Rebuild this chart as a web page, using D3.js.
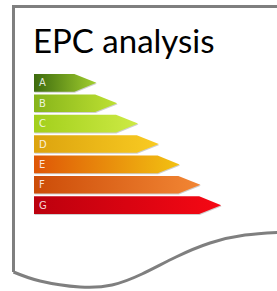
<!DOCTYPE html>
<html>
<head>
<meta charset="utf-8">
<script src="https://cdn.jsdelivr.net/npm/d3@7"></script>
<style>
  body { margin: 0; background: #fff; }
  svg { display: block; }
</style>
</head>
<body>
<div id="chart"></div>
<script>
// energy rating bands, top to bottom
const ratings = ["A", "B", "C", "D", "E", "F", "G"];
const bandLength = [3, 4, 5, 6, 7, 8, 9];
const colorLeft  = ["#3d6b0e", "#86b41a", "#a2cf1c", "#dca30e", "#df5606", "#cc4c08", "#bc000e"];
const colorRight = ["#a2cf2e", "#bde032", "#cdea44", "#f9cb22", "#f2c212", "#f28634", "#f60814"];
const title = "EPC analysis";

const width = 277, height = 291;
const margin = {left: 34, top: 74};

const svg = d3.select("#chart")
    .append("svg")
    .attr("width", width)
    .attr("height", height);

const defs = svg.append("defs");

// document outline with wavy bottom
const wave = [[13.5, 272], [40, 281], [80, 287], [112, 285], [142, 274],
              [176, 257], [210, 243], [245, 235], [285, 232]];
const waveLine = d3.line().curve(d3.curveNatural);
svg.append("path")
    .attr("d", "M13.5,272 L13.5,6.5 L290,6.5 L290,232 " + waveLine(wave.slice().reverse()).replace("M", "L"))
    .attr("fill", "#fff")
    .attr("stroke", "#7f7f7f")
    .attr("stroke-width", 3)
    .attr("stroke-linejoin", "miter");

svg.append("text")
    .attr("x", 33)
    .attr("y", 53)
    .style("font-family", "Lato, 'Open Sans', sans-serif")
    .style("font-size", "33px")
    .attr("fill", "#000")
    .text(title);

const x = d3.scaleLinear()
    .domain([0, 10])
    .range([0, 208]);

const y = d3.scaleBand()
    .domain(ratings)
    .range([margin.top, margin.top + 20 * ratings.length])
    .paddingInner(0.13)
    .paddingOuter(0);

ratings.forEach((r, i) => {
  const g = defs.append("linearGradient")
      .attr("id", "grad" + r)
      .attr("x1", "0%").attr("x2", "100%")
      .attr("y1", "0%").attr("y2", "0%");
  g.append("stop").attr("offset", "0%").attr("stop-color", colorLeft[i]);
  g.append("stop").attr("offset", "100%").attr("stop-color", colorRight[i]);
});

const tip = 22;
const arrow = (d, i) => {
  const x0 = margin.left, x1 = margin.left + x(bandLength[i]);
  const y0 = y(d), h = y.bandwidth();
  return `M${x0},${y0} L${x1 - tip},${y0} L${x1},${y0 + h / 2} L${x1 - tip},${y0 + h} L${x0},${y0 + h} Z`;
};

const bars = svg.append("g");

bars.selectAll("path.shadow")
    .data(ratings)
    .enter()
    .append("path")
    .attr("class", "shadow")
    .attr("d", arrow)
    .attr("transform", "translate(0.5,1)")
    .attr("fill", "#cfcfcf");

bars.selectAll("path.band")
    .data(ratings)
    .enter()
    .append("path")
    .attr("class", "band")
    .attr("d", arrow)
    .attr("fill", d => "url(#grad" + d + ")");

bars.selectAll("text")
    .data(ratings)
    .enter()
    .append("text")
    .attr("x", margin.left + 5)
    .attr("y", d => y(d) + y.bandwidth() / 2 + 3.5)
    .style("font-family", "'DejaVu Sans', sans-serif")
    .style("font-size", "10px")
    .attr("fill", "#fff")
    .attr("fill-opacity", 0.85)
    .text(d => d);
</script>
</body>
</html>
